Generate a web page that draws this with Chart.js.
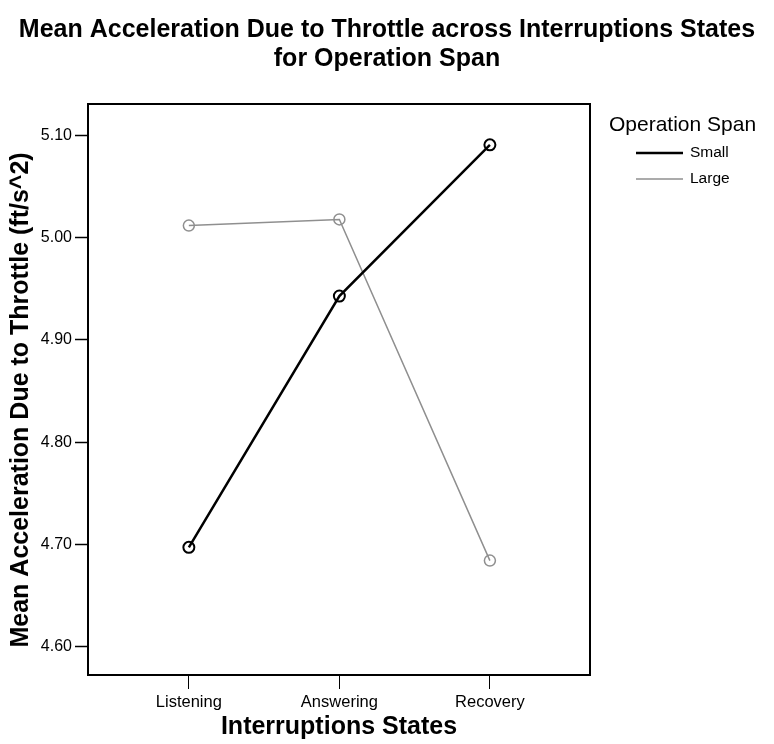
<!DOCTYPE html>
<html lang="en">

<head>
    <meta charset="UTF-8">
    <meta name="viewport" content="width=device-width, initial-scale=1.0">
    <title>Mean Acceleration Due to Throttle</title>
    <style>
        html,
        body {
            margin: 0;
            padding: 0;
            background: #fff;
        }

        #grafica {
            display: block;
        }
    </style>
    <script src="https://cdn.jsdelivr.net/npm/chart.js@4"></script>
</head>

<body>
    <canvas id="grafica" width="774" height="744"></canvas>
    <script>
        // Categories on the x axis
        const estados = ["Listening", "Answering", "Recovery"];
        // One series per operation span group
        const spanSmall = [4.697, 4.943, 5.091];
        const spanLarge = [5.012, 5.018, 4.684];
        // Tick values shown on the y axis
        const ticksY = [4.60, 4.70, 4.80, 4.90, 5.00, 5.10];
        const tituloLeyenda = "Operation Span";

        const fuente = "'Liberation Sans', Arial, sans-serif";
        const $grafica = document.querySelector("#grafica");

        // x is linear so the three states can sit where the original put them
        const puntos = valores => valores.map((v, i) => ({ x: i, y: v }));

        // Black frame around the plot area
        const marco = {
            id: 'marco',
            beforeDatasetsDraw(chart) {
                const { left, top, right, bottom } = chart.chartArea;
                const ctx = chart.ctx;
                ctx.save();
                ctx.strokeStyle = '#000';
                ctx.lineWidth = 2;
                ctx.strokeRect(left, top, right - left, bottom - top);
                ctx.restore();
            }
        };

        // Legend in the SPSS style: title, then a line sample per series
        const leyenda = {
            id: 'leyenda',
            afterDraw(chart) {
                const ctx = chart.ctx;
                ctx.save();
                ctx.fillStyle = '#000';
                ctx.textBaseline = 'middle';
                ctx.font = "21px " + fuente;
                ctx.fillText(tituloLeyenda, 609, 125);
                ctx.font = "15.5px " + fuente;
                chart.data.datasets.forEach((ds, i) => {
                    const y = 153 + i * 26;
                    ctx.strokeStyle = ds.borderColor;
                    ctx.lineWidth = ds.borderWidth;
                    ctx.beginPath();
                    ctx.moveTo(636, y);
                    ctx.lineTo(683, y);
                    ctx.stroke();
                    ctx.fillText(ds.label, 690, y);
                });
                ctx.restore();
            }
        };

        var myChart = new Chart($grafica, {
            type: 'line',
            data: {
                datasets: [
                    {
                        label: 'Small',
                        data: puntos(spanSmall),
                        borderColor: '#000',
                        borderWidth: 2.5,
                        pointRadius: 5.5,
                        pointBorderWidth: 2,
                        pointBorderColor: '#000',
                        pointBackgroundColor: 'rgba(0,0,0,0)',
                        tension: 0,
                    },
                    {
                        label: 'Large',
                        data: puntos(spanLarge),
                        borderColor: '#8f8f8f',
                        borderWidth: 1.5,
                        pointRadius: 5.5,
                        pointBorderWidth: 1.5,
                        pointBorderColor: '#8f8f8f',
                        pointBackgroundColor: 'rgba(0,0,0,0)',
                        tension: 0,
                    },
                ]
            },
            options: {
                responsive: false,
                animation: false,
                plugins: {
                    legend: { display: false },
                    tooltip: { enabled: false },
                    title: {
                        display: true,
                        text: ['Mean Acceleration Due to Throttle across Interruptions States', 'for Operation Span'],
                        color: '#000',
                        font: { family: fuente, size: 25, weight: 'bold', lineHeight: 1.16 },
                        padding: { top: 15.5, bottom: 30.5 }
                    }
                },
                scales: {
                    x: {
                        type: 'linear',
                        min: -0.67,
                        max: 2.665,
                        afterBuildTicks: s => { s.ticks = estados.map((e, i) => ({ value: i })); },
                        afterFit: s => { s.height = 69; },
                        ticks: {
                            callback: v => estados[v],
                            color: '#000',
                            font: { family: fuente, size: 16.5 },
                            padding: 4,
                            maxRotation: 0,
                            autoSkip: false
                        },
                        grid: {
                            drawOnChartArea: false,
                            drawTicks: true,
                            tickLength: 14,
                            tickColor: '#000',
                            tickWidth: 1
                        },
                        border: { display: true, color: '#000', width: 2 },
                        title: {
                            display: true,
                            text: 'Interruptions States',
                            color: '#000',
                            font: { family: fuente, size: 25, weight: 'bold', lineHeight: 1.2 },
                            padding: { top: 0, bottom: 2 }
                        }
                    },
                    y: {
                        min: 4.572,
                        max: 5.131,
                        afterBuildTicks: s => { s.ticks = ticksY.map(v => ({ value: v })); },
                        afterFit: s => { s.width = 88; },
                        ticks: {
                            callback: v => v.toFixed(2),
                            color: '#000',
                            font: { family: fuente, size: 16 },
                            padding: 3
                        },
                        grid: {
                            drawOnChartArea: false,
                            drawTicks: true,
                            tickLength: 13,
                            tickColor: '#000',
                            tickWidth: 1.5
                        },
                        border: { display: true, color: '#000', width: 2 },
                        title: {
                            display: true,
                            text: 'Mean Acceleration Due to Throttle (ft/s^2)\u00a0\u00a0\u00a0',
                            color: '#000',
                            font: { family: fuente, size: 25, weight: 'bold', lineHeight: 1.2 },
                            padding: { top: 6, bottom: 0 }
                        }
                    },
                    // empty axis on the right, only keeps room for the legend
                    derecha: {
                        type: 'linear',
                        position: 'right',
                        grid: { display: false },
                        border: { display: false },
                        ticks: { display: false },
                        afterFit: s => { s.width = 184; }
                    }
                }
            },
            plugins: [marco, leyenda]
        });
    </script>
</body>

</html>
